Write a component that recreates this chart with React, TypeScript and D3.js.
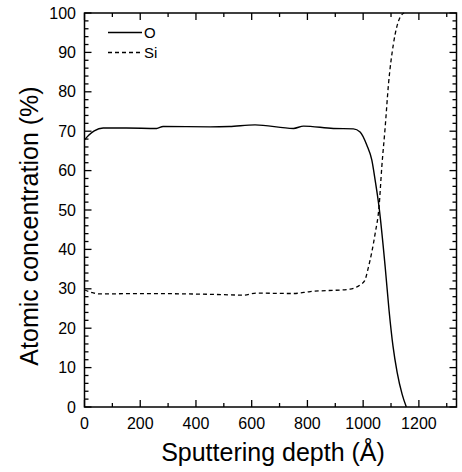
import React, { useEffect, useRef } from "react";
import * as d3 from "d3";

const oDepth = [0, 15, 35, 67, 150, 259, 282, 451, 520, 612, 750, 786, 893, 965, 989, 1013, 1031, 1043, 1057, 1079, 1093, 1107, 1122, 1140, 1155];
const oConc = [67.8, 69.0, 70.1, 70.8, 70.8, 70.7, 71.2, 71.1, 71.2, 71.6, 70.7, 71.3, 70.7, 70.6, 69.8, 66.5, 62.7, 57.6, 50.8, 35.6, 24.5, 15.5, 8.8, 3.2, 0];
const siDepth = [0, 30, 56, 200, 451, 570, 618, 749, 810, 953, 989, 1005, 1019, 1043, 1057, 1067, 1079, 1091, 1109, 1133, 1147];
const siConc = [29.7, 29.0, 28.7, 28.8, 28.6, 28.4, 28.9, 28.8, 29.3, 29.9, 31.0, 32.0, 35.5, 44.0, 50.8, 61.0, 71.0, 82.0, 92.3, 99.0, 100];

const xMajorTicks = [0, 200, 400, 600, 800, 1000, 1200];
const yMajorTicks = [0, 10, 20, 30, 40, 50, 60, 70, 80, 90, 100];
const legendLabels = ["O", "Si"];

export default function App() {
  const ref = useRef<SVGSVGElement>(null);
  useEffect(() => {
    const svg = d3.select(ref.current);
    svg.selectAll("*").remove();
    const x = d3.scaleLinear().domain([0, 1335]).range([84.5, 456.5]);
    const y = d3.scaleLinear().domain([0, 100]).range([407, 13]);
    const font = "Arial, 'Liberation Sans', sans-serif";
    const g = svg.append("g");

    const xMinor = d3.range(0, 1336, 100);
    const yMinor = d3.range(0, 101, 2);
    const tickG = g.append("g").attr("stroke", "#000").attr("stroke-width", 1.3);
    xMinor.forEach((v) => {
      const len = v % 200 === 0 ? 7 : 4;
      tickG.append("line").attr("x1", x(v)).attr("x2", x(v)).attr("y1", y(0)).attr("y2", y(0) - len);
      tickG.append("line").attr("x1", x(v)).attr("x2", x(v)).attr("y1", y(100)).attr("y2", y(100) + len);
    });
    yMinor.forEach((v) => {
      const len = v % 10 === 0 ? 7 : 4;
      tickG.append("line").attr("y1", y(v)).attr("y2", y(v)).attr("x1", x.range()[0]).attr("x2", x.range()[0] + len);
      tickG.append("line").attr("y1", y(v)).attr("y2", y(v)).attr("x1", x.range()[1]).attr("x2", x.range()[1] - len);
    });

    g.append("rect")
      .attr("x", x.range()[0]).attr("y", y(100))
      .attr("width", x.range()[1] - x.range()[0]).attr("height", y(0) - y(100))
      .attr("fill", "none").attr("stroke", "#000").attr("stroke-width", 1.5);

    xMajorTicks.forEach((v) => {
      g.append("text").attr("x", x(v)).attr("y", 429).attr("text-anchor", "middle")
        .attr("font-family", font).attr("font-size", 16).text(v);
    });
    yMajorTicks.forEach((v) => {
      g.append("text").attr("x", 76).attr("y", y(v) + 5.5).attr("text-anchor", "end")
        .attr("font-family", font).attr("font-size", 16).text(v);
    });

    const line = d3.line<[number, number]>().x((d) => x(d[0])).y((d) => y(d[1])).curve(d3.curveMonotoneX);
    const oData = oDepth.map((d, i) => [d, oConc[i]] as [number, number]);
    const siData = siDepth.map((d, i) => [d, siConc[i]] as [number, number]);
    g.append("path").attr("d", line(oData)).attr("fill", "none").attr("stroke", "#000").attr("stroke-width", 1.4);
    g.append("path").attr("d", line(siData)).attr("fill", "none").attr("stroke", "#000").attr("stroke-width", 1.3)
      .attr("stroke-dasharray", "4,3");

    legendLabels.forEach((lab, i) => {
      const ly = 32.5 + i * 20;
      g.append("line").attr("x1", 108).attr("x2", 142).attr("y1", ly).attr("y2", ly)
        .attr("stroke", "#000").attr("stroke-width", 1.3).attr("stroke-dasharray", i === 1 ? "4,3" : null);
      g.append("text").attr("x", 144).attr("y", ly + 5).attr("font-family", font).attr("font-size", 15).text(lab);
    });

    g.append("text").attr("x", 273).attr("y", 461).attr("text-anchor", "middle")
      .attr("font-family", font).attr("font-size", 25).text("Sputtering depth (Å)");
    g.append("text").attr("transform", "translate(38,226) rotate(-90)").attr("text-anchor", "middle")
      .attr("font-family", font).attr("font-size", 25).text("Atomic concentration (%)");
  }, []);
  return (
    <svg ref={ref} width={462} height={472} style={{ position: "absolute", left: 0, top: 0, background: "#fff" }} />
  );
}
